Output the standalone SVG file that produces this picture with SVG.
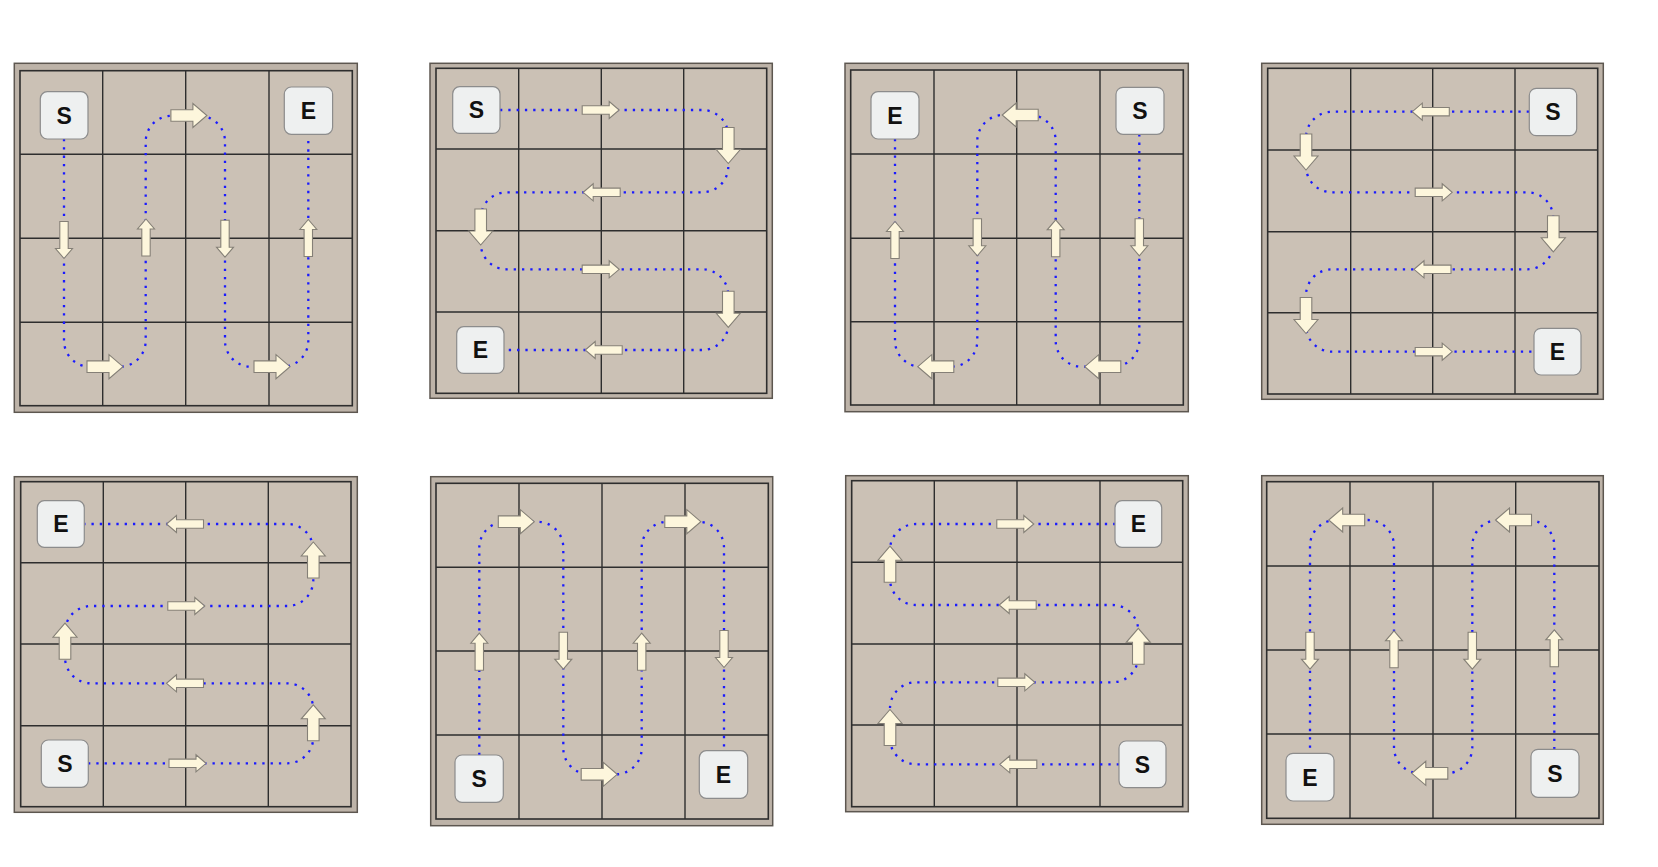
<svg xmlns="http://www.w3.org/2000/svg" xmlns:xlink="http://www.w3.org/1999/xlink" width="1658" height="867" viewBox="0 0 1658 867">
<style>
.frame{fill:#bdb3a8;stroke:#5d5750;stroke-width:1.5}
.board{fill:#cbc1b5;stroke:#2e2e2e;stroke-width:1.6}
.grid{stroke:#2e2e2e;stroke-width:1.4;fill:none}
.route{fill:none;stroke:#1a1aff;stroke-width:2.3;stroke-dasharray:2.3 6}
.arw{fill:#fdf6dc;stroke:#858077;stroke-width:1.1;stroke-linejoin:miter}
.box{fill:#eef0f0;stroke:#8c8c8c;stroke-width:1.2}
.lbl{font-family:"Liberation Sans",Arial,sans-serif;font-weight:bold;font-size:23px;fill:#111;text-anchor:middle}
</style>
<defs>
<path id="aS" class="arw" d="M-18.5,-4.2 H8.5 V-8.5 L18.5,0 L8.5,8.5 V4.2 H-18.5 Z"/>
<path id="aL" class="arw" d="M-18,-5.8 H4 V-12 L18,0 L4,12 V5.8 H-18 Z"/>
</defs>
<rect width="1658" height="867" fill="#ffffff"/>

<!-- Boards -->
<g id="board1">
<rect class="frame" x="14.3" y="63.3" width="343" height="349"/>
<rect class="board" x="20" y="70.7" width="332.3" height="335"/>
<path class="grid" d="M102.7,70.7V405.7M185.7,70.7V405.7M269,70.7V405.7M20,154.3H352.3M20,238.3H352.3M20,322.3H352.3"/>
</g>
<g id="board2">
<rect class="frame" x="430" y="63.3" width="342.3" height="335"/>
<rect class="board" x="436" y="68.3" width="330.7" height="325"/>
<path class="grid" d="M518.7,68.3V393.3M601.3,68.3V393.3M683.7,68.3V393.3M436,149H766.7M436,230.7H766.7M436,312H766.7"/>
</g>
<g id="board3">
<rect class="frame" x="845" y="63.3" width="343.3" height="348.4"/>
<rect class="board" x="850.7" y="70" width="332.6" height="335"/>
<path class="grid" d="M934,70V405M1016.7,70V405M1100,70V405M850.7,154H1183.3M850.7,238.3H1183.3M850.7,321.7H1183.3"/>
</g>
<g id="board4">
<rect class="frame" x="1261.7" y="63.3" width="341.6" height="336"/>
<rect class="board" x="1267.7" y="68.3" width="330" height="325.7"/>
<path class="grid" d="M1350.7,68.3V394M1432.7,68.3V394M1515,68.3V394M1267.7,150H1597.7M1267.7,231.7H1597.7M1267.7,312.7H1597.7"/>
</g>
<g id="board5">
<rect class="frame" x="14.3" y="476.7" width="343" height="335.6"/>
<rect class="board" x="20.7" y="481.7" width="330.3" height="325"/>
<path class="grid" d="M103.3,481.7V806.7M185.7,481.7V806.7M268.3,481.7V806.7M20.7,562.7H351M20.7,644H351M20.7,725.7H351"/>
</g>
<g id="board6">
<rect class="frame" x="430.7" y="476.7" width="342" height="349"/>
<rect class="board" x="436" y="483.3" width="332.3" height="335.7"/>
<path class="grid" d="M519,483.3V819M602,483.3V819M685,483.3V819M436,567.3H768.3M436,651H768.3M436,735H768.3"/>
</g>
<g id="board7">
<rect class="frame" x="845.7" y="475.7" width="342.6" height="336"/>
<rect class="board" x="851.7" y="480.7" width="331" height="326"/>
<path class="grid" d="M934.3,480.7V806.7M1017,480.7V806.7M1100,480.7V806.7M851.7,562.3H1182.7M851.7,644H1182.7M851.7,725H1182.7"/>
</g>
<g id="board8">
<rect class="frame" x="1261.7" y="475.7" width="341.6" height="348.6"/>
<rect class="board" x="1266.7" y="481.7" width="332.3" height="336.6"/>
<path class="grid" d="M1350,481.7V818.3M1433,481.7V818.3M1515.7,481.7V818.3M1266.7,566H1599M1266.7,650H1599M1266.7,734H1599"/>
</g>

<!-- Connectors -->
<g id="connectors">
<path class="route" d="M64,139 V340.7 A26,26 0 0 0 90,366.7 H119.7 A26,26 0 0 0 145.7,340.7 V141.7 A26,26 0 0 1 171.7,115.7 H199 A26,26 0 0 1 225,141.7 V340.7 A26,26 0 0 0 251,366.7 H282.3 A26,26 0 0 0 308.3,340.7 V134"/>
<path class="route" d="M500,110 H702.3 A26,26 0 0 1 728.3,136 V166.3 A26,26 0 0 1 702.3,192.3 H506.7 A26,26 0 0 0 480.7,218.3 V243.3 A26,26 0 0 0 506.7,269.3 H702.3 A26,26 0 0 1 728.3,295.3 V324 A26,26 0 0 1 702.3,350 H504"/>
<path class="route" d="M1139.3,134.3 V340.7 A26,26 0 0 1 1113.3,366.7 H1081.7 A26,26 0 0 1 1055.7,340.7 V141 A26,26 0 0 0 1029.7,115 H1003.3 A26,26 0 0 0 977.3,141 V340.7 A26,26 0 0 1 951.3,366.7 H921 A26,26 0 0 1 895,340.7 V139"/>
<path class="route" d="M1529,111.7 H1332 A26,26 0 0 0 1306,137.7 V166.3 A26,26 0 0 0 1332,192.3 H1527.3 A26,26 0 0 1 1553.3,218.3 V243.3 A26,26 0 0 1 1527.3,269.3 H1332 A26,26 0 0 0 1306,295.3 V325.7 A26,26 0 0 0 1332,351.7 H1534"/>
<path class="route" d="M88,763.3 H287.3 A26,26 0 0 0 313.3,737.3 V709.3 A26,26 0 0 0 287.3,683.3 H91 A26,26 0 0 1 65,657.3 V632 A26,26 0 0 1 91,606 H287.3 A26,26 0 0 0 313.3,580 V550 A26,26 0 0 0 287.3,524 H84"/>
<path class="route" d="M479.3,755 V547.7 A26,26 0 0 1 505.3,521.7 H537.3 A26,26 0 0 1 563.3,547.7 V748.3 A26,26 0 0 0 589.3,774.3 H615.7 A26,26 0 0 0 641.7,748.3 V547.7 A26,26 0 0 1 667.7,521.7 H698 A26,26 0 0 1 724,547.7 V750.7"/>
<path class="route" d="M1119,764.3 H916 A26,26 0 0 1 890,738.3 V708.3 A26,26 0 0 1 916,682.3 H1112.3 A26,26 0 0 0 1138.3,656.3 V631 A26,26 0 0 0 1112.3,605 H916 A26,26 0 0 1 890,579 V550 A26,26 0 0 1 916,524 H1115"/>
<path class="route" d="M1554.3,749.3 V546 A26,26 0 0 0 1528.3,520 H1498.3 A26,26 0 0 0 1472.3,546 V747.3 A26,26 0 0 1 1446.3,773.3 H1420 A26,26 0 0 1 1394,747.3 V546 A26,26 0 0 0 1368,520 H1336 A26,26 0 0 0 1310,546 V753.3"/>

<!-- panel 1 arrows -->
<use xlink:href="#aS" transform="translate(64,240) rotate(90)"/>
<use xlink:href="#aL" transform="translate(105,366.7)"/>
<use xlink:href="#aS" transform="translate(146,237.5) rotate(-90)"/>
<use xlink:href="#aL" transform="translate(188.9,115.5)"/>
<use xlink:href="#aS" transform="translate(225,238.7) rotate(90)"/>
<use xlink:href="#aL" transform="translate(272,366.7)"/>
<use xlink:href="#aS" transform="translate(308.3,238) rotate(-90)"/>
<!-- panel 2 arrows -->
<use xlink:href="#aS" transform="translate(600.7,110)"/>
<use xlink:href="#aL" transform="translate(728.3,145.5) rotate(90)"/>
<use xlink:href="#aS" transform="translate(601.7,192.3) rotate(180)"/>
<use xlink:href="#aL" transform="translate(480.7,227) rotate(90)"/>
<use xlink:href="#aS" transform="translate(600.7,269.3)"/>
<use xlink:href="#aL" transform="translate(728.3,309.3) rotate(90)"/>
<use xlink:href="#aS" transform="translate(603.7,350) rotate(180)"/>
<!-- panel 3 arrows -->
<use xlink:href="#aS" transform="translate(1139.3,237.3) rotate(90)"/>
<use xlink:href="#aL" transform="translate(1102.8,366.7) rotate(180)"/>
<use xlink:href="#aS" transform="translate(1055.7,238.3) rotate(-90)"/>
<use xlink:href="#aL" transform="translate(1020.2,115) rotate(180)"/>
<use xlink:href="#aS" transform="translate(977.3,237.3) rotate(90)"/>
<use xlink:href="#aL" transform="translate(935.8,366.7) rotate(180)"/>
<use xlink:href="#aS" transform="translate(895,240) rotate(-90)"/>
<!-- panel 4 arrows -->
<use xlink:href="#aS" transform="translate(1430.8,111.7) rotate(180)"/>
<use xlink:href="#aL" transform="translate(1306,152) rotate(90)"/>
<use xlink:href="#aS" transform="translate(1433.7,192.3)"/>
<use xlink:href="#aL" transform="translate(1553.3,233.8) rotate(90)"/>
<use xlink:href="#aS" transform="translate(1432.5,269.3) rotate(180)"/>
<use xlink:href="#aL" transform="translate(1306,315.5) rotate(90)"/>
<use xlink:href="#aS" transform="translate(1433.7,351.7)"/>
<!-- panel 5 arrows -->
<use xlink:href="#aS" transform="translate(187.5,763.3)"/>
<use xlink:href="#aL" transform="translate(313.3,722.8) rotate(-90)"/>
<use xlink:href="#aS" transform="translate(185,683.3) rotate(180)"/>
<use xlink:href="#aL" transform="translate(65,641.2) rotate(-90)"/>
<use xlink:href="#aS" transform="translate(186.3,606)"/>
<use xlink:href="#aL" transform="translate(313.3,560) rotate(-90)"/>
<use xlink:href="#aS" transform="translate(185,524) rotate(180)"/>
<!-- panel 6 arrows -->
<use xlink:href="#aS" transform="translate(479.3,651.7) rotate(-90)"/>
<use xlink:href="#aL" transform="translate(516.3,521.7)"/>
<use xlink:href="#aS" transform="translate(563.3,650.7) rotate(90)"/>
<use xlink:href="#aL" transform="translate(599.2,774.3)"/>
<use xlink:href="#aS" transform="translate(641.7,651.7) rotate(-90)"/>
<use xlink:href="#aL" transform="translate(682.8,521.7)"/>
<use xlink:href="#aS" transform="translate(724,649) rotate(90)"/>
<!-- panel 7 arrows -->
<use xlink:href="#aS" transform="translate(1018.3,764.3) rotate(180)"/>
<use xlink:href="#aL" transform="translate(890,727.5) rotate(-90)"/>
<use xlink:href="#aS" transform="translate(1016.3,682.3)"/>
<use xlink:href="#aL" transform="translate(1138.3,646.3) rotate(-90)"/>
<use xlink:href="#aS" transform="translate(1017.7,605) rotate(180)"/>
<use xlink:href="#aL" transform="translate(890,564.2) rotate(-90)"/>
<use xlink:href="#aS" transform="translate(1015.3,524)"/>
<!-- panel 8 arrows -->
<use xlink:href="#aS" transform="translate(1554.3,648.3) rotate(-90)"/>
<use xlink:href="#aL" transform="translate(1513.5,520) rotate(180)"/>
<use xlink:href="#aS" transform="translate(1472.3,650.7) rotate(90)"/>
<use xlink:href="#aL" transform="translate(1429.8,773.3) rotate(180)"/>
<use xlink:href="#aS" transform="translate(1394,649.3) rotate(-90)"/>
<use xlink:href="#aL" transform="translate(1346.7,520) rotate(180)"/>
<use xlink:href="#aS" transform="translate(1310,650.7) rotate(90)"/>
</g>

<!-- Start / End nodes -->
<g id="p1-start"><rect class="box" x="40.3" y="91.7" width="47.7" height="47.3" rx="7"/><text class="lbl" x="64.2" y="123.6">S</text></g>
<g id="p1-end"><rect class="box" x="284.3" y="87" width="48.3" height="47.3" rx="7"/><text class="lbl" x="308.5" y="119">E</text></g>
<g id="p2-start"><rect class="box" x="452.7" y="86.7" width="47.3" height="46.7" rx="7"/><text class="lbl" x="476.3" y="118.3">S</text></g>
<g id="p2-end"><rect class="box" x="456.7" y="326.7" width="47.3" height="46.7" rx="7"/><text class="lbl" x="480.3" y="358.3">E</text></g>
<g id="p3-end"><rect class="box" x="871" y="91.7" width="48" height="47.3" rx="7"/><text class="lbl" x="895" y="123.6">E</text></g>
<g id="p3-start"><rect class="box" x="1116" y="87.3" width="48" height="47" rx="7"/><text class="lbl" x="1140" y="119.1">S</text></g>
<g id="p4-start"><rect class="box" x="1529.3" y="88.3" width="47.4" height="47.4" rx="7"/><text class="lbl" x="1553" y="120.3">S</text></g>
<g id="p4-end"><rect class="box" x="1534" y="328.3" width="47" height="46.7" rx="7"/><text class="lbl" x="1557.5" y="360">E</text></g>
<g id="p5-end"><rect class="box" x="37.3" y="500.7" width="47" height="46.6" rx="7"/><text class="lbl" x="60.8" y="532.3">E</text></g>
<g id="p5-start"><rect class="box" x="41.3" y="740" width="47" height="47.3" rx="7"/><text class="lbl" x="64.8" y="772">S</text></g>
<g id="p6-start"><rect class="box" x="455" y="755" width="48.3" height="47.3" rx="7"/><text class="lbl" x="479.2" y="787">S</text></g>
<g id="p6-end"><rect class="box" x="699.3" y="750.7" width="48.4" height="47.6" rx="7"/><text class="lbl" x="723.5" y="782.8">E</text></g>
<g id="p7-end"><rect class="box" x="1115" y="500.7" width="46.7" height="46.6" rx="7"/><text class="lbl" x="1138.3" y="532.3">E</text></g>
<g id="p7-start"><rect class="box" x="1119" y="741" width="47" height="46.7" rx="7"/><text class="lbl" x="1142.5" y="772.6">S</text></g>
<g id="p8-end"><rect class="box" x="1286" y="753.3" width="48" height="47.7" rx="7"/><text class="lbl" x="1310" y="785.5">E</text></g>
<g id="p8-start"><rect class="box" x="1531" y="749.3" width="48" height="48" rx="7"/><text class="lbl" x="1555" y="781.6">S</text></g>
</svg>
